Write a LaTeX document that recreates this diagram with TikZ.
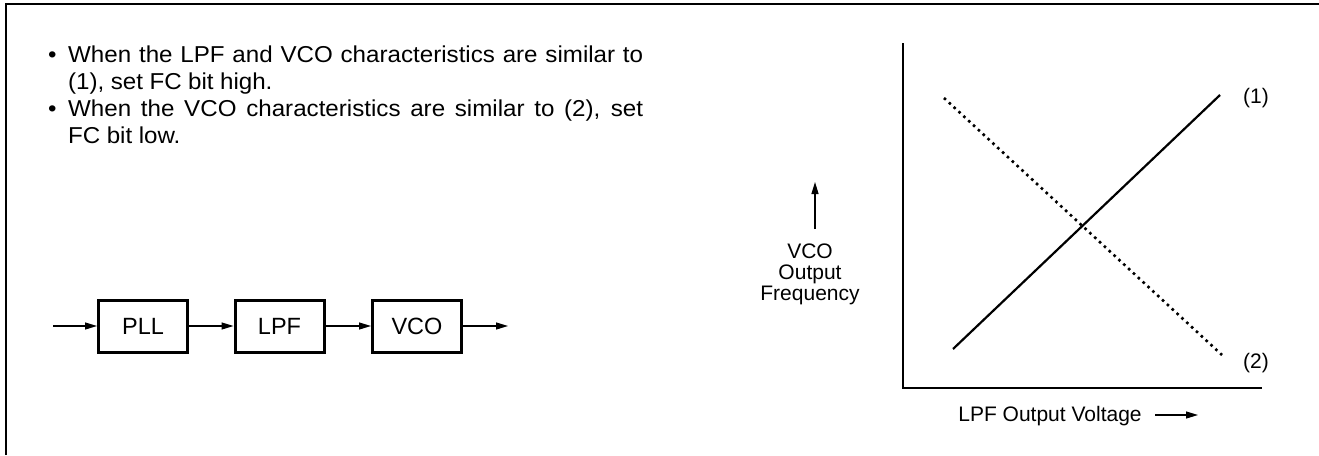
\documentclass[tikz,border=0pt]{standalone}
\usepackage{fontspec}
\setmainfont{Liberation Sans}
\newfontfamily\bodyfont[FakeStretch=1.05]{Liberation Sans}
\usetikzlibrary{arrows.meta}
\tikzset{
  blk/.style={draw, line width=3pt, minimum width=89pt, minimum height=52pt, inner sep=0pt, font=\fontsize{23.5}{28}\selectfont},
  sig/.style={line width=1.2pt, -{Triangle[length=12pt,width=7pt]}},
  axisline/.style={line width=2.5pt},
  curve/.style={line width=2.2pt},
  dotcurve/.style={line width=2.6pt, dash pattern=on 2.6pt off 4pt},
  lbl/.style={font=\fontsize{21}{21}\selectfont, inner sep=0pt},
  framel/.style={line width=2pt},
  bullets/.style={anchor=north west, inner sep=0pt, text width=595pt, align=justify, font=\bodyfont\fontsize{23}{27}\selectfont},
}
\begin{document}
\begin{tikzpicture}[x=1pt,y=-1pt]
\useasboundingbox (0,0) rectangle (1319,455);
% frame
\draw[framel] (6,455) -- (6,4) -- (1319,4);
% bullet text
\node[bullets] (txt) at (48,46) {%
\parindent=0pt\parskip=0pt\spaceskip=0.28em plus 0.6em minus 0pt
\hangindent=20pt\hangafter=1
\makebox[20pt][l]{\textbullet}When the LPF and VCO characteristics are similar to (1), set FC bit high.\par
\hangindent=20pt\hangafter=1
\makebox[20pt][l]{\textbullet}When the VCO characteristics are similar to (2), set FC bit low.\par};
% block diagram
\node[blk] (pll) at (143,326) {PLL};
\node[blk] (lpf) at (279.5,326) {LPF};
\node[blk] (vco) at (417,326) {VCO};
\coordinate (in) at (53,326);
\coordinate (out) at (508,326);
\draw[sig] (in) -- (pll);
\draw[sig] (pll) -- (lpf);
\draw[sig] (lpf) -- (vco);
\draw[sig] (vco) -- (out);
% graph
\coordinate (O) at (903,388);
\coordinate (ytop) at (903,43);
\coordinate (xend) at (1262,388);
\draw[axisline] (ytop) -- (O) -- (xend);
\coordinate (s1) at (953,349);
\coordinate (s2) at (1220,95);
\draw[curve] (s1) -- (s2);
\coordinate (d1) at (944,98);
\coordinate (d2) at (1222,355);
\draw[dotcurve] (d1) -- (d2);
\node[lbl] (l1) at (1256,98) {(1)};
\node[lbl] (l2) at (1256,363) {(2)};
\node[lbl] (xl) at (1050,416) {LPF Output Voltage};
\coordinate (xa0) at (1155,415);
\coordinate (xa1) at (1198,415);
\draw[sig] (xa0) -- (xa1);
\node[lbl, align=center] (yl) at (810,274) {VCO\\Output\\Frequency};
\coordinate (ya0) at (815,229);
\coordinate (ya1) at (815,182);
\draw[sig] (ya0) -- (ya1);
\end{tikzpicture}
\end{document}
